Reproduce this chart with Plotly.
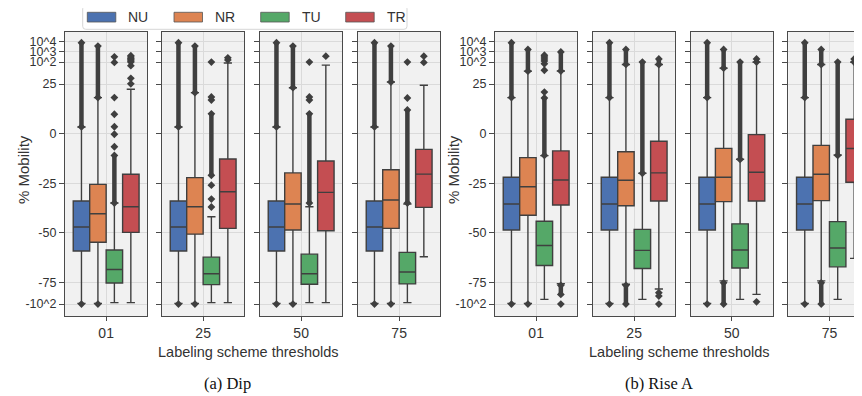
import numpy as np
import plotly.graph_objects as go

# ---------------- data ----------------
THRESHOLDS = ["01", "25", "50", "75"]
GROUPS = ["NU", "NR", "TU", "TR"]
COLORS = ["#4C72B0", "#DD8452", "#55A868", "#C44E52"]

# rows: NU, NR, TU, TR ; columns: thresholds 01, 25, 50, 75
DIP_Q1 = [[-59.2, -59.2, -59.2, -59.2], [-54.8, -50.7, -48.6, -47.8],
          [-75.7, -77.3, -76.9, -76.6], [-49.8, -47.8, -49.0, -37.2]]
DIP_MED = [[-47.1, -47.1, -47.1, -47.1], [-40.4, -36.9, -35.5, -33.5],
           [-68.5, -70.7, -70.7, -69.8], [-36.9, -29.3, -29.6, -20.4]]
DIP_Q3 = [[-34.0, -34.0, -34.0, -34.0], [-25.6, -22.2, -19.8, -18.2],
          [-58.7, -62.3, -60.8, -59.9], [-20.5, -12.8, -13.8, -7.9]]
DIP_LO = [[-99, -99, -99, -99], [-99, -99, -99, -99],
          [-98, -98, -98, -98], [-98, -98, -98, -62.1]]
DIP_HI = [[3.4, 3.4, 3.4, 3.4], [18.2, 20.7, 23.2, 28.5],
          [-35.0, -41.9, -36.9, -35.5], [22.4, 95, 83, 24.4]]
# dense flier columns: (threshold, group, low, high)
DIP_FLIER_BANDS = [
    (0, 0, 3.4, 7200), (1, 0, 3.4, 7200), (2, 0, 3.4, 7200), (3, 0, 3.4, 7200),
    (0, 1, 18.2, 3400), (1, 1, 20.7, 3400), (2, 1, 23.2, 3400), (3, 1, 28.5, 3400),
    (0, 2, -35, -11), (1, 2, -21, 10), (2, 2, -35, 10), (3, 2, -35, 12),
]
# single fliers: (threshold, group, values)
DIP_FLIER_POINTS = [
    (0, 0, [-100]), (1, 0, [-100]), (2, 0, [-100]), (3, 0, [-100]),
    (0, 1, [-100]), (1, 1, [-100]), (2, 1, [-100]), (3, 1, [-100]),
    (0, 2, [-6.6, -0.3, 3.5, 9.8, 18.2, 98, 316]),
    (1, 2, [-37, -33, -26, 17, 18.5, 100]),
    (2, 2, [17, 18.5, 100]),
    (3, 2, [18, 100]),
    (0, 3, [25.5, 36, 80, 100, 130, 170, 220, 300, 400]),
    (1, 3, [160, 250]),
    (2, 3, [360]),
    (3, 3, [98, 360]),
]

RISE_Q1 = [[-48.6, -48.6, -48.6, -48.6], [-41.2, -36.4, -34.3, -33.8],
           [-66.5, -68.0, -67.8, -67.2], [-36.0, -34.0, -34.0, -24.5]]
RISE_MED = [[-35.5, -35.5, -35.5, -35.5], [-26.8, -23.5, -22.0, -20.5],
            [-56.4, -58.9, -58.7, -57.7], [-23.4, -19.8, -19.5, -7.5]]
RISE_Q3 = [[-22.0, -22.0, -22.0, -22.0], [-12.1, -9.1, -7.4, -5.9],
           [-44.2, -48.3, -45.5, -44.4], [-8.7, -3.8, -0.5, 7.3]]
RISE_LO = [[-99, -99, -99, -99], [-99, -77, -74.3, -74.3],
           [-94, -94, -94, -94], [-76.5, -82, -88, -62.9]]
RISE_HI = [[18.2, 18.2, 18.2, 18.2], [56.7, 86.5, 68.5, 86],
           [-11.1, -20.0, -12.9, -10.8], [57, 86, 100, 100]]
RISE_FLIER_BANDS = [
    (0, 0, 18.2, 7200), (1, 0, 18.2, 7200), (2, 0, 18.2, 7200), (3, 0, 18.2, 7200),
    (0, 1, 56.7, 1550), (1, 1, 86.5, 1550), (2, 1, 68.5, 1550), (3, 1, 86, 1550),
    (1, 1, -100, -78), (2, 1, -100, -75.5), (3, 1, -100, -75.5),
    (0, 2, -11, 18), (1, 2, -20, 100), (2, 2, -13, 100), (3, 2, -11, 100),
    (0, 3, 57, 900), (1, 3, 86, 200), (2, 3, 100, 200), (3, 3, 100, 200),
    (0, 3, -88, -78),
]
RISE_FLIER_POINTS = [
    (0, 0, [-100]), (1, 0, [-100]), (2, 0, [-100]), (3, 0, [-100]),
    (0, 1, [-100]),
    (0, 2, [21, 60, 90, 130, 200, 300, 440]),
    (0, 3, [-100]), (1, 3, [-86, -90, -100]), (2, 3, [-97]),
]

Y_TICK_VALUES = [-100, -75, -50, -25, 0, 25, 100, 1000, 10000]
Y_TICK_TEXT = ["-10^2", "-75", "-50", "-25", "0", "25", "10^2", "10^3", "10^4"]

PANELS = [
    dict(name="(a) Dip", q1=DIP_Q1, med=DIP_MED, q3=DIP_Q3, lo=DIP_LO, hi=DIP_HI,
         bands=DIP_FLIER_BANDS, points=DIP_FLIER_POINTS),
    dict(name="(b) Rise A", q1=RISE_Q1, med=RISE_MED, q3=RISE_Q3, lo=RISE_LO, hi=RISE_HI,
         bands=RISE_FLIER_BANDS, points=RISE_FLIER_POINTS),
]


# ---------------- axis scale (linear core, log tails) ----------------
def T(v):
    v = np.asarray(v, dtype=float)
    out = v.copy()
    hi = v > 25
    lo = v < -75
    out[hi] = np.interp(np.log10(v[hi]), [np.log10(25), 2, 3, 4], [25, 36.1, 41.5, 46.6])
    out[lo] = np.interp(np.log10(-v[lo]), [np.log10(75), 2], [-75, -86])
    return out


# ---------------- layout geometry (window pixels) ----------------
WIN_W, WIN_H = 862, 396
PAGE_MARGIN = 8                      # default body margin of the html page
FIG_W, FIG_H = WIN_W - PAGE_MARGIN, WIN_H - PAGE_MARGIN


def px(X):
    return (X - PAGE_MARGIN) / FIG_W


def py(Y):
    return 1 - (Y - PAGE_MARGIN) / FIG_H


SUB_W = 82.3
SUB_X0 = [[65, 162, 260, 358], [495, 593, 690.7, 788.3]]
PLOT_TOP, PLOT_BOT = 32, 316
Y_RANGE = [-92.0, 51.3]
OFFSETS = [-0.3, -0.1, 0.1, 0.3]
BOX_W = 0.2

EDGE = "#3f3f3f"
FRAME = "#4a4a4a"
GRID = "#dadada"
BG = "#f1f1f1"
TXT = "#333333"
SANS = "Liberation Sans, Arial, sans-serif"
SERIF = "Liberation Serif, Times New Roman, serif"

fig = go.Figure()
layout_axes = {}

for p, panel in enumerate(PANELS):
    for t in range(4):
        k = p * 4 + t + 1
        xr = "x" if k == 1 else f"x{k}"
        yr = "y" if k == 1 else f"y{k}"
        x0 = SUB_X0[p][t]
        x1 = min(x0 + SUB_W, WIN_W)
        cut = x0 + SUB_W > WIN_W
        xmax = -0.5 + (x1 - x0) / SUB_W

        for g in range(4):
            xp = OFFSETS[g]
            fig.add_trace(go.Box(
                x=[xp],
                q1=T([panel["q1"][g][t]]), median=T([panel["med"][g][t]]),
                q3=T([panel["q3"][g][t]]),
                lowerfence=T([panel["lo"][g][t]]), upperfence=T([panel["hi"][g][t]]),
                width=BOX_W, whiskerwidth=0.5, boxpoints=False,
                fillcolor=COLORS[g], line=dict(color=EDGE, width=1.4),
                name=GROUPS[g], showlegend=False, hoverinfo="skip",
                xaxis=xr, yaxis=yr,
            ))

        for (tt, g, lo, hi) in panel["bands"]:
            if tt != t:
                continue
            xp = OFFSETS[g]
            fig.add_trace(go.Scatter(
                x=[xp, xp], y=T([lo, hi]), mode="lines+markers",
                line=dict(color=EDGE, width=4.5),
                marker=dict(symbol="diamond", size=6, color=EDGE),
                showlegend=False, hoverinfo="skip", xaxis=xr, yaxis=yr,
            ))
        for (tt, g, vals) in panel["points"]:
            if tt != t:
                continue
            xp = OFFSETS[g]
            fig.add_trace(go.Scatter(
                x=[xp] * len(vals), y=T(vals), mode="markers",
                marker=dict(symbol="diamond", size=6, color=EDGE),
                showlegend=False, hoverinfo="skip", xaxis=xr, yaxis=yr,
            ))

        xname = "xaxis" if k == 1 else f"xaxis{k}"
        yname = "yaxis" if k == 1 else f"yaxis{k}"
        layout_axes[xname] = dict(
            domain=[px(x0), px(x1)], range=[-0.5, xmax], anchor=yr,
            tickvals=[0], ticktext=[THRESHOLDS[t]], ticks="outside", ticklen=4,
            tickcolor=FRAME, showgrid=True, gridcolor=GRID, gridwidth=1,
            showline=True, linecolor=FRAME, linewidth=1.3, mirror=True,
            zeroline=False, tickfont=dict(family=SANS, size=14, color=TXT),
        )
        layout_axes[yname] = dict(
            domain=[py(PLOT_BOT), py(PLOT_TOP)], range=Y_RANGE,
            anchor=xr, tickvals=list(T(Y_TICK_VALUES)), ticktext=Y_TICK_TEXT,
            ticks="outside", ticklen=5, tickcolor=FRAME,
            showticklabels=(t == 0), showgrid=True, gridcolor=GRID, gridwidth=1,
            showline=True, linecolor=FRAME, linewidth=1.3, mirror=not cut,
            zeroline=False, tickfont=dict(family=SANS, size=12.5, color=TXT),
        )

annotations = []
shapes = []
# axis titles and captions
for p, (cx_y, cx_x, cx_c) in enumerate([(23, 248.7, 227), (453, 679, 659)]):
    annotations.append(dict(text="% Mobility", x=px(cx_y), y=py(170),
                            xref="paper", yref="paper", textangle=-90, showarrow=False,
                            xanchor="center", yanchor="middle",
                            font=dict(family=SANS, size=15, color=TXT)))
    annotations.append(dict(text="Labeling scheme thresholds", x=px(cx_x), y=py(352),
                            xref="paper", yref="paper", xanchor="center", yanchor="middle",
                            showarrow=False, font=dict(family=SANS, size=14.5, color=TXT)))
    annotations.append(dict(text=PANELS[p]["name"], x=px(cx_c), y=py(383),
                            xref="paper", yref="paper", xanchor="center", yanchor="middle",
                            showarrow=False,
                            font=dict(family=SERIF, size=16.5, color="#111111")))

# legend (drawn above panel a), rounded frame
lx0, lx1, ly0, ly1 = px(82.7), px(407), py(29.3), py(5.7)
rx, ry = 3 / FIG_W, 3 / FIG_H
legend_path = (
    f"M {lx0 + rx},{ly0} L {lx1 - rx},{ly0} Q {lx1},{ly0} {lx1},{ly0 + ry} "
    f"L {lx1},{ly1 - ry} Q {lx1},{ly1} {lx1 - rx},{ly1} L {lx0 + rx},{ly1} "
    f"Q {lx0},{ly1} {lx0},{ly1 - ry} L {lx0},{ly0 + ry} Q {lx0},{ly0} {lx0 + rx},{ly0} Z"
)
shapes.append(dict(type="path", xref="paper", yref="paper", path=legend_path,
                   line=dict(color="#d6d6d6", width=1), fillcolor="white", layer="above"))
LEG_RECT_X = [87.3, 174, 260.7, 345.7]
for g in range(4):
    lx = LEG_RECT_X[g]
    shapes.append(dict(type="rect", xref="paper", yref="paper",
                       x0=px(lx), x1=px(lx + 28.5), y0=py(22), y1=py(12.3),
                       line=dict(color="#555555", width=0.8), fillcolor=COLORS[g],
                       layer="above"))
    annotations.append(dict(text=GROUPS[g], x=px(lx + 39), y=py(17.2),
                            xref="paper", yref="paper", xanchor="left", yanchor="middle",
                            showarrow=False, font=dict(family=SANS, size=14, color=TXT)))

fig.update_layout(
    width=FIG_W, height=FIG_H, margin=dict(l=0, r=0, t=0, b=0),
    paper_bgcolor="white", plot_bgcolor=BG, showlegend=False,
    boxmode="overlay", annotations=annotations, shapes=shapes,
    font=dict(family=SANS, color=TXT), **layout_axes,
)

fig.write_html("out.html")
